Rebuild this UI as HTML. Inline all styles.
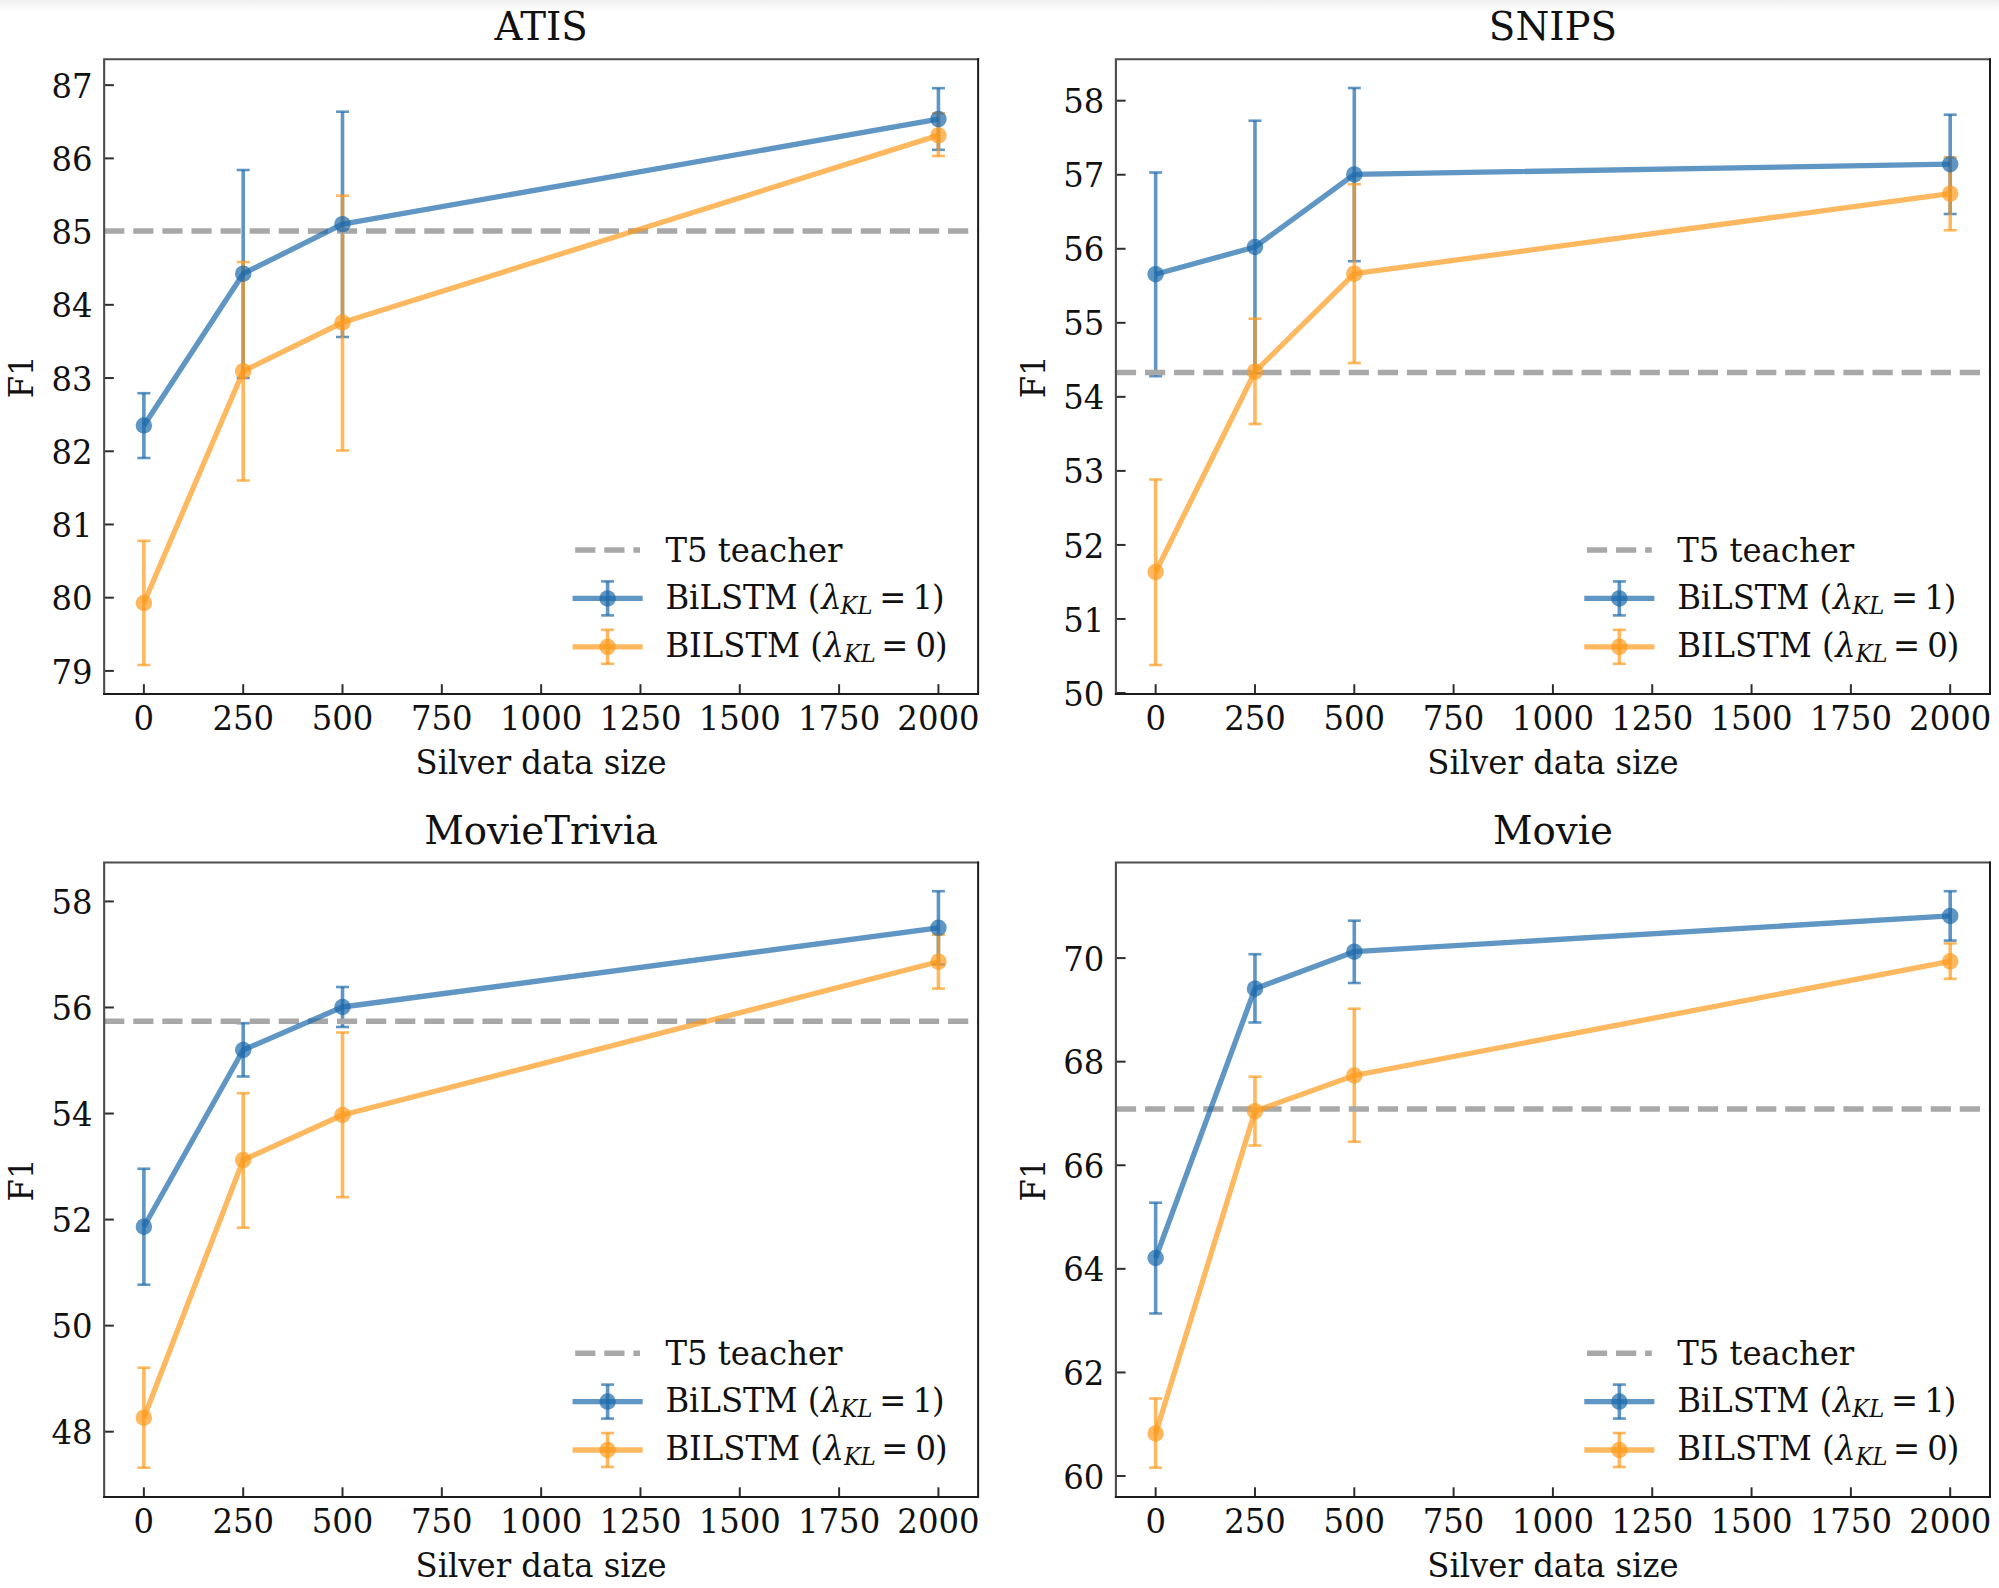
<!DOCTYPE html>
<html lang="en">
<head>
<meta charset="utf-8">
<title>F1 vs. silver data size</title>
<style>
html,body{margin:0;padding:0;background:#ffffff;}
body{width:1999px;height:1588px;overflow:hidden;position:relative;font-family:'DejaVu Serif','Liberation Serif',serif;}
.topshade{position:absolute;left:0;top:0;width:1999px;height:14px;background:linear-gradient(to bottom,#efefef 0px,#f6f6f6 4px,#fbfbfb 8px,#ffffff 13px);}
svg{position:absolute;left:0;top:0;display:block;}
</style>
</head>
<body>
<div class="topshade"></div>
<svg width="1999" height="1588" viewBox="0 0 1999 1588" font-family="'DejaVu Serif','Liberation Serif',serif" fill="#111111">
<g class="panel">
<g stroke="#2e2e2e" stroke-width="2.0">
<line x1="143.88" y1="693.9" x2="143.88" y2="684.2"/>
<line x1="243.2" y1="693.9" x2="243.2" y2="684.2"/>
<line x1="342.51" y1="693.9" x2="342.51" y2="684.2"/>
<line x1="441.83" y1="693.9" x2="441.83" y2="684.2"/>
<line x1="541.15" y1="693.9" x2="541.15" y2="684.2"/>
<line x1="640.47" y1="693.9" x2="640.47" y2="684.2"/>
<line x1="739.78" y1="693.9" x2="739.78" y2="684.2"/>
<line x1="839.1" y1="693.9" x2="839.1" y2="684.2"/>
<line x1="938.42" y1="693.9" x2="938.42" y2="684.2"/>
<line x1="104.15" y1="670.92" x2="113.85" y2="670.92"/>
<line x1="104.15" y1="597.7" x2="113.85" y2="597.7"/>
<line x1="104.15" y1="524.48" x2="113.85" y2="524.48"/>
<line x1="104.15" y1="451.26" x2="113.85" y2="451.26"/>
<line x1="104.15" y1="378.04" x2="113.85" y2="378.04"/>
<line x1="104.15" y1="304.82" x2="113.85" y2="304.82"/>
<line x1="104.15" y1="231.6" x2="113.85" y2="231.6"/>
<line x1="104.15" y1="158.38" x2="113.85" y2="158.38"/>
<line x1="104.15" y1="85.16" x2="113.85" y2="85.16"/>
</g>
<g stroke="#1c69ab" stroke-opacity="0.7">
<line x1="143.88" y1="393.2" x2="143.88" y2="458" stroke-width="3.6"/>
<line x1="243.2" y1="170" x2="243.2" y2="378" stroke-width="3.6"/>
<line x1="342.51" y1="111.7" x2="342.51" y2="337" stroke-width="3.6"/>
<line x1="938.42" y1="88.2" x2="938.42" y2="149.8" stroke-width="3.6"/>
<line x1="137.38" y1="393.2" x2="150.38" y2="393.2" stroke-width="2.6"/>
<line x1="137.38" y1="458" x2="150.38" y2="458" stroke-width="2.6"/>
<line x1="236.7" y1="170" x2="249.7" y2="170" stroke-width="2.6"/>
<line x1="236.7" y1="378" x2="249.7" y2="378" stroke-width="2.6"/>
<line x1="336.01" y1="111.7" x2="349.01" y2="111.7" stroke-width="2.6"/>
<line x1="336.01" y1="337" x2="349.01" y2="337" stroke-width="2.6"/>
<line x1="931.92" y1="88.2" x2="944.92" y2="88.2" stroke-width="2.6"/>
<line x1="931.92" y1="149.8" x2="944.92" y2="149.8" stroke-width="2.6"/>
</g>
<g stroke="#fc9a1c" stroke-opacity="0.7">
<line x1="143.88" y1="540.8" x2="143.88" y2="665" stroke-width="3.6"/>
<line x1="243.2" y1="262" x2="243.2" y2="480.5" stroke-width="3.6"/>
<line x1="342.51" y1="195.7" x2="342.51" y2="450.5" stroke-width="3.6"/>
<line x1="938.42" y1="113.3" x2="938.42" y2="156" stroke-width="3.6"/>
<line x1="137.38" y1="540.8" x2="150.38" y2="540.8" stroke-width="2.6"/>
<line x1="137.38" y1="665" x2="150.38" y2="665" stroke-width="2.6"/>
<line x1="236.7" y1="262" x2="249.7" y2="262" stroke-width="2.6"/>
<line x1="236.7" y1="480.5" x2="249.7" y2="480.5" stroke-width="2.6"/>
<line x1="336.01" y1="195.7" x2="349.01" y2="195.7" stroke-width="2.6"/>
<line x1="336.01" y1="450.5" x2="349.01" y2="450.5" stroke-width="2.6"/>
<line x1="931.92" y1="113.3" x2="944.92" y2="113.3" stroke-width="2.6"/>
<line x1="931.92" y1="156" x2="944.92" y2="156" stroke-width="2.6"/>
</g>
<line x1="104.15" y1="231" x2="978.12" y2="231" stroke="#a8a8a8" stroke-width="5.4" stroke-dasharray="20.2 8.9"/>
<g stroke="#1c69ab" fill="#1c69ab" stroke-opacity="0.7" fill-opacity="0.7">
<path d="M143.88 425.5 L243.2 273.7 L342.51 224.2 L938.42 119.1" fill="none" stroke-width="5.3" stroke-linejoin="round" stroke-linecap="butt"/>
<circle cx="143.88" cy="425.5" r="8.25" stroke="none"/>
<circle cx="243.2" cy="273.7" r="8.25" stroke="none"/>
<circle cx="342.51" cy="224.2" r="8.25" stroke="none"/>
<circle cx="938.42" cy="119.1" r="8.25" stroke="none"/>
</g>
<g stroke="#fc9a1c" fill="#fc9a1c" stroke-opacity="0.7" fill-opacity="0.7">
<path d="M143.88 603 L243.2 371.2 L342.51 322.5 L938.42 135.4" fill="none" stroke-width="5.3" stroke-linejoin="round" stroke-linecap="butt"/>
<circle cx="143.88" cy="603" r="8.25" stroke="none"/>
<circle cx="243.2" cy="371.2" r="8.25" stroke="none"/>
<circle cx="342.51" cy="322.5" r="8.25" stroke="none"/>
<circle cx="938.42" cy="135.4" r="8.25" stroke="none"/>
</g>
<path d="M104.15 694.9V59.3H979.12" fill="none" stroke="#4c4c4c" stroke-width="2.1" stroke-linejoin="miter"/>
<path d="M103.15 693.9H978.12V58.3" fill="none" stroke="#1c1c1c" stroke-width="2.0" stroke-linejoin="miter"/>
<text transform="translate(143.88 730) scale(1 1.045)" font-size="32.3" text-anchor="middle">0</text>
<text transform="translate(243.2 730) scale(1 1.045)" font-size="32.3" text-anchor="middle">250</text>
<text transform="translate(342.51 730) scale(1 1.045)" font-size="32.3" text-anchor="middle">500</text>
<text transform="translate(441.83 730) scale(1 1.045)" font-size="32.3" text-anchor="middle">750</text>
<text transform="translate(541.15 730) scale(1 1.045)" font-size="32.3" text-anchor="middle">1000</text>
<text transform="translate(640.47 730) scale(1 1.045)" font-size="32.3" text-anchor="middle">1250</text>
<text transform="translate(739.78 730) scale(1 1.045)" font-size="32.3" text-anchor="middle">1500</text>
<text transform="translate(839.1 730) scale(1 1.045)" font-size="32.3" text-anchor="middle">1750</text>
<text transform="translate(938.42 730) scale(1 1.045)" font-size="32.3" text-anchor="middle">2000</text>
<text transform="translate(92.65 683.52) scale(1 1.045)" font-size="32.3" text-anchor="end">79</text>
<text transform="translate(92.65 610.3) scale(1 1.045)" font-size="32.3" text-anchor="end">80</text>
<text transform="translate(92.65 537.08) scale(1 1.045)" font-size="32.3" text-anchor="end">81</text>
<text transform="translate(92.65 463.86) scale(1 1.045)" font-size="32.3" text-anchor="end">82</text>
<text transform="translate(92.65 390.64) scale(1 1.045)" font-size="32.3" text-anchor="end">83</text>
<text transform="translate(92.65 317.42) scale(1 1.045)" font-size="32.3" text-anchor="end">84</text>
<text transform="translate(92.65 244.2) scale(1 1.045)" font-size="32.3" text-anchor="end">85</text>
<text transform="translate(92.65 170.98) scale(1 1.045)" font-size="32.3" text-anchor="end">86</text>
<text transform="translate(92.65 97.76) scale(1 1.045)" font-size="32.3" text-anchor="end">87</text>
<text transform="translate(541.13 773.5) scale(1 1.045)" font-size="32.3" text-anchor="middle">Silver data size</text>
<text transform="translate(32.95 376.9) rotate(-90) scale(1 1.045)" font-size="32.3" text-anchor="middle">F1</text>
<text transform="translate(541.13 40.4)" font-size="38.7" text-anchor="middle">ATIS</text>
<line x1="575.2" y1="550" x2="640" y2="550" stroke="#a8a8a8" stroke-width="5.4" stroke-dasharray="20.2 8.9"/>
<g stroke="#1c69ab" fill="#1c69ab" stroke-opacity="0.7" fill-opacity="0.7">
<line x1="572.55" y1="598.4" x2="642.65" y2="598.4" stroke-width="5.3"/>
<circle cx="607.6" cy="598.4" r="8.25" stroke="none"/>
<line x1="607.6" y1="581.4" x2="607.6" y2="615.4" stroke-width="3.6"/>
<line x1="601.1" y1="581.4" x2="614.1" y2="581.4" stroke-width="2.6"/>
<line x1="601.1" y1="615.4" x2="614.1" y2="615.4" stroke-width="2.6"/>
</g>
<g stroke="#fc9a1c" fill="#fc9a1c" stroke-opacity="0.7" fill-opacity="0.7">
<line x1="572.55" y1="646.8" x2="642.65" y2="646.8" stroke-width="5.3"/>
<circle cx="607.6" cy="646.8" r="8.25" stroke="none"/>
<line x1="607.6" y1="629.8" x2="607.6" y2="663.8" stroke-width="3.6"/>
<line x1="601.1" y1="629.8" x2="614.1" y2="629.8" stroke-width="2.6"/>
<line x1="601.1" y1="663.8" x2="614.1" y2="663.8" stroke-width="2.6"/>
</g>
<text transform="translate(665.4 561.9) scale(1 1.045)" font-size="32.3">T5 teacher</text>
<text transform="translate(665.4 608.9) scale(1 1.045)" font-size="32.3"><tspan x="0">BiLSTM (</tspan><tspan x="155.9" font-style="italic">λ</tspan><tspan x="175.2" dy="4.59" font-size="22.6" font-style="italic">KL</tspan><tspan x="213.9" dy="-4.59">=</tspan><tspan x="247.1">1</tspan><tspan x="266.6">)</tspan></text>
<text transform="translate(665.4 657.2) scale(1 1.045)" font-size="32.3"><tspan x="0">BILSTM (</tspan><tspan x="158.1" font-style="italic">λ</tspan><tspan x="178.6" dy="4.59" font-size="22.6" font-style="italic">KL</tspan><tspan x="215.9" dy="-4.59">=</tspan><tspan x="250.1">0</tspan><tspan x="269.7">)</tspan></text>
</g>
<g class="panel">
<g stroke="#2e2e2e" stroke-width="2.0">
<line x1="1155.65" y1="693.9" x2="1155.65" y2="684.2"/>
<line x1="1254.97" y1="693.9" x2="1254.97" y2="684.2"/>
<line x1="1354.29" y1="693.9" x2="1354.29" y2="684.2"/>
<line x1="1453.6" y1="693.9" x2="1453.6" y2="684.2"/>
<line x1="1552.92" y1="693.9" x2="1552.92" y2="684.2"/>
<line x1="1652.24" y1="693.9" x2="1652.24" y2="684.2"/>
<line x1="1751.56" y1="693.9" x2="1751.56" y2="684.2"/>
<line x1="1850.87" y1="693.9" x2="1850.87" y2="684.2"/>
<line x1="1950.19" y1="693.9" x2="1950.19" y2="684.2"/>
<line x1="1115.9" y1="693.01" x2="1125.6" y2="693.01"/>
<line x1="1115.9" y1="618.97" x2="1125.6" y2="618.97"/>
<line x1="1115.9" y1="544.93" x2="1125.6" y2="544.93"/>
<line x1="1115.9" y1="470.89" x2="1125.6" y2="470.89"/>
<line x1="1115.9" y1="396.85" x2="1125.6" y2="396.85"/>
<line x1="1115.9" y1="322.81" x2="1125.6" y2="322.81"/>
<line x1="1115.9" y1="248.77" x2="1125.6" y2="248.77"/>
<line x1="1115.9" y1="174.73" x2="1125.6" y2="174.73"/>
<line x1="1115.9" y1="100.69" x2="1125.6" y2="100.69"/>
</g>
<g stroke="#1c69ab" stroke-opacity="0.7">
<line x1="1155.65" y1="172.5" x2="1155.65" y2="376.2" stroke-width="3.6"/>
<line x1="1254.97" y1="120.7" x2="1254.97" y2="373.2" stroke-width="3.6"/>
<line x1="1354.29" y1="88" x2="1354.29" y2="261.2" stroke-width="3.6"/>
<line x1="1950.19" y1="114.7" x2="1950.19" y2="214" stroke-width="3.6"/>
<line x1="1149.15" y1="172.5" x2="1162.15" y2="172.5" stroke-width="2.6"/>
<line x1="1149.15" y1="376.2" x2="1162.15" y2="376.2" stroke-width="2.6"/>
<line x1="1248.47" y1="120.7" x2="1261.47" y2="120.7" stroke-width="2.6"/>
<line x1="1248.47" y1="373.2" x2="1261.47" y2="373.2" stroke-width="2.6"/>
<line x1="1347.79" y1="88" x2="1360.79" y2="88" stroke-width="2.6"/>
<line x1="1347.79" y1="261.2" x2="1360.79" y2="261.2" stroke-width="2.6"/>
<line x1="1943.69" y1="114.7" x2="1956.69" y2="114.7" stroke-width="2.6"/>
<line x1="1943.69" y1="214" x2="1956.69" y2="214" stroke-width="2.6"/>
</g>
<g stroke="#fc9a1c" stroke-opacity="0.7">
<line x1="1155.65" y1="479.5" x2="1155.65" y2="665" stroke-width="3.6"/>
<line x1="1254.97" y1="318.7" x2="1254.97" y2="424" stroke-width="3.6"/>
<line x1="1354.29" y1="184.2" x2="1354.29" y2="363" stroke-width="3.6"/>
<line x1="1950.19" y1="157.3" x2="1950.19" y2="230.3" stroke-width="3.6"/>
<line x1="1149.15" y1="479.5" x2="1162.15" y2="479.5" stroke-width="2.6"/>
<line x1="1149.15" y1="665" x2="1162.15" y2="665" stroke-width="2.6"/>
<line x1="1248.47" y1="318.7" x2="1261.47" y2="318.7" stroke-width="2.6"/>
<line x1="1248.47" y1="424" x2="1261.47" y2="424" stroke-width="2.6"/>
<line x1="1347.79" y1="184.2" x2="1360.79" y2="184.2" stroke-width="2.6"/>
<line x1="1347.79" y1="363" x2="1360.79" y2="363" stroke-width="2.6"/>
<line x1="1943.69" y1="157.3" x2="1956.69" y2="157.3" stroke-width="2.6"/>
<line x1="1943.69" y1="230.3" x2="1956.69" y2="230.3" stroke-width="2.6"/>
</g>
<line x1="1115.9" y1="372.5" x2="1990" y2="372.5" stroke="#a8a8a8" stroke-width="5.4" stroke-dasharray="20.2 8.9"/>
<g stroke="#1c69ab" fill="#1c69ab" stroke-opacity="0.7" fill-opacity="0.7">
<path d="M1155.65 274.2 L1254.97 247 L1354.29 174.4 L1950.19 164.2" fill="none" stroke-width="5.3" stroke-linejoin="round" stroke-linecap="butt"/>
<circle cx="1155.65" cy="274.2" r="8.25" stroke="none"/>
<circle cx="1254.97" cy="247" r="8.25" stroke="none"/>
<circle cx="1354.29" cy="174.4" r="8.25" stroke="none"/>
<circle cx="1950.19" cy="164.2" r="8.25" stroke="none"/>
</g>
<g stroke="#fc9a1c" fill="#fc9a1c" stroke-opacity="0.7" fill-opacity="0.7">
<path d="M1155.65 572 L1254.97 371.7 L1354.29 273.7 L1950.19 193.7" fill="none" stroke-width="5.3" stroke-linejoin="round" stroke-linecap="butt"/>
<circle cx="1155.65" cy="572" r="8.25" stroke="none"/>
<circle cx="1254.97" cy="371.7" r="8.25" stroke="none"/>
<circle cx="1354.29" cy="273.7" r="8.25" stroke="none"/>
<circle cx="1950.19" cy="193.7" r="8.25" stroke="none"/>
</g>
<path d="M1115.9 694.9V59.3H1991" fill="none" stroke="#4c4c4c" stroke-width="2.1" stroke-linejoin="miter"/>
<path d="M1114.9 693.9H1990V58.3" fill="none" stroke="#1c1c1c" stroke-width="2.0" stroke-linejoin="miter"/>
<text transform="translate(1155.65 730) scale(1 1.045)" font-size="32.3" text-anchor="middle">0</text>
<text transform="translate(1254.97 730) scale(1 1.045)" font-size="32.3" text-anchor="middle">250</text>
<text transform="translate(1354.29 730) scale(1 1.045)" font-size="32.3" text-anchor="middle">500</text>
<text transform="translate(1453.6 730) scale(1 1.045)" font-size="32.3" text-anchor="middle">750</text>
<text transform="translate(1552.92 730) scale(1 1.045)" font-size="32.3" text-anchor="middle">1000</text>
<text transform="translate(1652.24 730) scale(1 1.045)" font-size="32.3" text-anchor="middle">1250</text>
<text transform="translate(1751.56 730) scale(1 1.045)" font-size="32.3" text-anchor="middle">1500</text>
<text transform="translate(1850.87 730) scale(1 1.045)" font-size="32.3" text-anchor="middle">1750</text>
<text transform="translate(1950.19 730) scale(1 1.045)" font-size="32.3" text-anchor="middle">2000</text>
<text transform="translate(1104.4 705.61) scale(1 1.045)" font-size="32.3" text-anchor="end">50</text>
<text transform="translate(1104.4 631.57) scale(1 1.045)" font-size="32.3" text-anchor="end">51</text>
<text transform="translate(1104.4 557.53) scale(1 1.045)" font-size="32.3" text-anchor="end">52</text>
<text transform="translate(1104.4 483.49) scale(1 1.045)" font-size="32.3" text-anchor="end">53</text>
<text transform="translate(1104.4 409.45) scale(1 1.045)" font-size="32.3" text-anchor="end">54</text>
<text transform="translate(1104.4 335.41) scale(1 1.045)" font-size="32.3" text-anchor="end">55</text>
<text transform="translate(1104.4 261.37) scale(1 1.045)" font-size="32.3" text-anchor="end">56</text>
<text transform="translate(1104.4 187.33) scale(1 1.045)" font-size="32.3" text-anchor="end">57</text>
<text transform="translate(1104.4 113.29) scale(1 1.045)" font-size="32.3" text-anchor="end">58</text>
<text transform="translate(1552.95 773.5) scale(1 1.045)" font-size="32.3" text-anchor="middle">Silver data size</text>
<text transform="translate(1044.7 376.9) rotate(-90) scale(1 1.045)" font-size="32.3" text-anchor="middle">F1</text>
<text transform="translate(1552.95 40.4)" font-size="38.7" text-anchor="middle">SNIPS</text>
<line x1="1586.95" y1="550" x2="1651.75" y2="550" stroke="#a8a8a8" stroke-width="5.4" stroke-dasharray="20.2 8.9"/>
<g stroke="#1c69ab" fill="#1c69ab" stroke-opacity="0.7" fill-opacity="0.7">
<line x1="1584.3" y1="598.4" x2="1654.4" y2="598.4" stroke-width="5.3"/>
<circle cx="1619.35" cy="598.4" r="8.25" stroke="none"/>
<line x1="1619.35" y1="581.4" x2="1619.35" y2="615.4" stroke-width="3.6"/>
<line x1="1612.85" y1="581.4" x2="1625.85" y2="581.4" stroke-width="2.6"/>
<line x1="1612.85" y1="615.4" x2="1625.85" y2="615.4" stroke-width="2.6"/>
</g>
<g stroke="#fc9a1c" fill="#fc9a1c" stroke-opacity="0.7" fill-opacity="0.7">
<line x1="1584.3" y1="646.8" x2="1654.4" y2="646.8" stroke-width="5.3"/>
<circle cx="1619.35" cy="646.8" r="8.25" stroke="none"/>
<line x1="1619.35" y1="629.8" x2="1619.35" y2="663.8" stroke-width="3.6"/>
<line x1="1612.85" y1="629.8" x2="1625.85" y2="629.8" stroke-width="2.6"/>
<line x1="1612.85" y1="663.8" x2="1625.85" y2="663.8" stroke-width="2.6"/>
</g>
<text transform="translate(1677.15 561.9) scale(1 1.045)" font-size="32.3">T5 teacher</text>
<text transform="translate(1677.15 608.9) scale(1 1.045)" font-size="32.3"><tspan x="0">BiLSTM (</tspan><tspan x="155.9" font-style="italic">λ</tspan><tspan x="175.2" dy="4.59" font-size="22.6" font-style="italic">KL</tspan><tspan x="213.9" dy="-4.59">=</tspan><tspan x="247.1">1</tspan><tspan x="266.6">)</tspan></text>
<text transform="translate(1677.15 657.2) scale(1 1.045)" font-size="32.3"><tspan x="0">BILSTM (</tspan><tspan x="158.1" font-style="italic">λ</tspan><tspan x="178.6" dy="4.59" font-size="22.6" font-style="italic">KL</tspan><tspan x="215.9" dy="-4.59">=</tspan><tspan x="250.1">0</tspan><tspan x="269.7">)</tspan></text>
</g>
<g class="panel">
<g stroke="#2e2e2e" stroke-width="2.0">
<line x1="143.88" y1="1497" x2="143.88" y2="1487.3"/>
<line x1="243.2" y1="1497" x2="243.2" y2="1487.3"/>
<line x1="342.51" y1="1497" x2="342.51" y2="1487.3"/>
<line x1="441.83" y1="1497" x2="441.83" y2="1487.3"/>
<line x1="541.15" y1="1497" x2="541.15" y2="1487.3"/>
<line x1="640.47" y1="1497" x2="640.47" y2="1487.3"/>
<line x1="739.78" y1="1497" x2="739.78" y2="1487.3"/>
<line x1="839.1" y1="1497" x2="839.1" y2="1487.3"/>
<line x1="938.42" y1="1497" x2="938.42" y2="1487.3"/>
<line x1="104.15" y1="1431.69" x2="113.85" y2="1431.69"/>
<line x1="104.15" y1="1325.64" x2="113.85" y2="1325.64"/>
<line x1="104.15" y1="1219.59" x2="113.85" y2="1219.59"/>
<line x1="104.15" y1="1113.53" x2="113.85" y2="1113.53"/>
<line x1="104.15" y1="1007.48" x2="113.85" y2="1007.48"/>
<line x1="104.15" y1="901.43" x2="113.85" y2="901.43"/>
</g>
<g stroke="#1c69ab" stroke-opacity="0.7">
<line x1="143.88" y1="1168.7" x2="143.88" y2="1284.7" stroke-width="3.6"/>
<line x1="243.2" y1="1023.2" x2="243.2" y2="1076.5" stroke-width="3.6"/>
<line x1="342.51" y1="987" x2="342.51" y2="1027" stroke-width="3.6"/>
<line x1="938.42" y1="891.2" x2="938.42" y2="964.4" stroke-width="3.6"/>
<line x1="137.38" y1="1168.7" x2="150.38" y2="1168.7" stroke-width="2.6"/>
<line x1="137.38" y1="1284.7" x2="150.38" y2="1284.7" stroke-width="2.6"/>
<line x1="236.7" y1="1023.2" x2="249.7" y2="1023.2" stroke-width="2.6"/>
<line x1="236.7" y1="1076.5" x2="249.7" y2="1076.5" stroke-width="2.6"/>
<line x1="336.01" y1="987" x2="349.01" y2="987" stroke-width="2.6"/>
<line x1="336.01" y1="1027" x2="349.01" y2="1027" stroke-width="2.6"/>
<line x1="931.92" y1="891.2" x2="944.92" y2="891.2" stroke-width="2.6"/>
<line x1="931.92" y1="964.4" x2="944.92" y2="964.4" stroke-width="2.6"/>
</g>
<g stroke="#fc9a1c" stroke-opacity="0.7">
<line x1="143.88" y1="1367.7" x2="143.88" y2="1467.7" stroke-width="3.6"/>
<line x1="243.2" y1="1093.2" x2="243.2" y2="1227.7" stroke-width="3.6"/>
<line x1="342.51" y1="1032.5" x2="342.51" y2="1197.2" stroke-width="3.6"/>
<line x1="938.42" y1="934.8" x2="938.42" y2="988.6" stroke-width="3.6"/>
<line x1="137.38" y1="1367.7" x2="150.38" y2="1367.7" stroke-width="2.6"/>
<line x1="137.38" y1="1467.7" x2="150.38" y2="1467.7" stroke-width="2.6"/>
<line x1="236.7" y1="1093.2" x2="249.7" y2="1093.2" stroke-width="2.6"/>
<line x1="236.7" y1="1227.7" x2="249.7" y2="1227.7" stroke-width="2.6"/>
<line x1="336.01" y1="1032.5" x2="349.01" y2="1032.5" stroke-width="2.6"/>
<line x1="336.01" y1="1197.2" x2="349.01" y2="1197.2" stroke-width="2.6"/>
<line x1="931.92" y1="934.8" x2="944.92" y2="934.8" stroke-width="2.6"/>
<line x1="931.92" y1="988.6" x2="944.92" y2="988.6" stroke-width="2.6"/>
</g>
<line x1="104.15" y1="1021.2" x2="978.12" y2="1021.2" stroke="#a8a8a8" stroke-width="5.4" stroke-dasharray="20.2 8.9"/>
<g stroke="#1c69ab" fill="#1c69ab" stroke-opacity="0.7" fill-opacity="0.7">
<path d="M143.88 1226.7 L243.2 1050 L342.51 1007 L938.42 927.8" fill="none" stroke-width="5.3" stroke-linejoin="round" stroke-linecap="butt"/>
<circle cx="143.88" cy="1226.7" r="8.25" stroke="none"/>
<circle cx="243.2" cy="1050" r="8.25" stroke="none"/>
<circle cx="342.51" cy="1007" r="8.25" stroke="none"/>
<circle cx="938.42" cy="927.8" r="8.25" stroke="none"/>
</g>
<g stroke="#fc9a1c" fill="#fc9a1c" stroke-opacity="0.7" fill-opacity="0.7">
<path d="M143.88 1417.7 L243.2 1160 L342.51 1115 L938.42 961.7" fill="none" stroke-width="5.3" stroke-linejoin="round" stroke-linecap="butt"/>
<circle cx="143.88" cy="1417.7" r="8.25" stroke="none"/>
<circle cx="243.2" cy="1160" r="8.25" stroke="none"/>
<circle cx="342.51" cy="1115" r="8.25" stroke="none"/>
<circle cx="938.42" cy="961.7" r="8.25" stroke="none"/>
</g>
<path d="M104.15 1498V862.5H979.12" fill="none" stroke="#4c4c4c" stroke-width="2.1" stroke-linejoin="miter"/>
<path d="M103.15 1497H978.12V861.5" fill="none" stroke="#1c1c1c" stroke-width="2.0" stroke-linejoin="miter"/>
<text transform="translate(143.88 1533.1) scale(1 1.045)" font-size="32.3" text-anchor="middle">0</text>
<text transform="translate(243.2 1533.1) scale(1 1.045)" font-size="32.3" text-anchor="middle">250</text>
<text transform="translate(342.51 1533.1) scale(1 1.045)" font-size="32.3" text-anchor="middle">500</text>
<text transform="translate(441.83 1533.1) scale(1 1.045)" font-size="32.3" text-anchor="middle">750</text>
<text transform="translate(541.15 1533.1) scale(1 1.045)" font-size="32.3" text-anchor="middle">1000</text>
<text transform="translate(640.47 1533.1) scale(1 1.045)" font-size="32.3" text-anchor="middle">1250</text>
<text transform="translate(739.78 1533.1) scale(1 1.045)" font-size="32.3" text-anchor="middle">1500</text>
<text transform="translate(839.1 1533.1) scale(1 1.045)" font-size="32.3" text-anchor="middle">1750</text>
<text transform="translate(938.42 1533.1) scale(1 1.045)" font-size="32.3" text-anchor="middle">2000</text>
<text transform="translate(92.65 1444.29) scale(1 1.045)" font-size="32.3" text-anchor="end">48</text>
<text transform="translate(92.65 1338.24) scale(1 1.045)" font-size="32.3" text-anchor="end">50</text>
<text transform="translate(92.65 1232.19) scale(1 1.045)" font-size="32.3" text-anchor="end">52</text>
<text transform="translate(92.65 1126.13) scale(1 1.045)" font-size="32.3" text-anchor="end">54</text>
<text transform="translate(92.65 1020.08) scale(1 1.045)" font-size="32.3" text-anchor="end">56</text>
<text transform="translate(92.65 914.03) scale(1 1.045)" font-size="32.3" text-anchor="end">58</text>
<text transform="translate(541.13 1576.6) scale(1 1.045)" font-size="32.3" text-anchor="middle">Silver data size</text>
<text transform="translate(32.95 1180.05) rotate(-90) scale(1 1.045)" font-size="32.3" text-anchor="middle">F1</text>
<text transform="translate(541.13 843.6)" font-size="38.7" text-anchor="middle">MovieTrivia</text>
<line x1="575.2" y1="1353.2" x2="640" y2="1353.2" stroke="#a8a8a8" stroke-width="5.4" stroke-dasharray="20.2 8.9"/>
<g stroke="#1c69ab" fill="#1c69ab" stroke-opacity="0.7" fill-opacity="0.7">
<line x1="572.55" y1="1401.6" x2="642.65" y2="1401.6" stroke-width="5.3"/>
<circle cx="607.6" cy="1401.6" r="8.25" stroke="none"/>
<line x1="607.6" y1="1384.6" x2="607.6" y2="1418.6" stroke-width="3.6"/>
<line x1="601.1" y1="1384.6" x2="614.1" y2="1384.6" stroke-width="2.6"/>
<line x1="601.1" y1="1418.6" x2="614.1" y2="1418.6" stroke-width="2.6"/>
</g>
<g stroke="#fc9a1c" fill="#fc9a1c" stroke-opacity="0.7" fill-opacity="0.7">
<line x1="572.55" y1="1450" x2="642.65" y2="1450" stroke-width="5.3"/>
<circle cx="607.6" cy="1450" r="8.25" stroke="none"/>
<line x1="607.6" y1="1433" x2="607.6" y2="1467" stroke-width="3.6"/>
<line x1="601.1" y1="1433" x2="614.1" y2="1433" stroke-width="2.6"/>
<line x1="601.1" y1="1467" x2="614.1" y2="1467" stroke-width="2.6"/>
</g>
<text transform="translate(665.4 1365.1) scale(1 1.045)" font-size="32.3">T5 teacher</text>
<text transform="translate(665.4 1412.1) scale(1 1.045)" font-size="32.3"><tspan x="0">BiLSTM (</tspan><tspan x="155.9" font-style="italic">λ</tspan><tspan x="175.2" dy="4.59" font-size="22.6" font-style="italic">KL</tspan><tspan x="213.9" dy="-4.59">=</tspan><tspan x="247.1">1</tspan><tspan x="266.6">)</tspan></text>
<text transform="translate(665.4 1460.4) scale(1 1.045)" font-size="32.3"><tspan x="0">BILSTM (</tspan><tspan x="158.1" font-style="italic">λ</tspan><tspan x="178.6" dy="4.59" font-size="22.6" font-style="italic">KL</tspan><tspan x="215.9" dy="-4.59">=</tspan><tspan x="250.1">0</tspan><tspan x="269.7">)</tspan></text>
</g>
<g class="panel">
<g stroke="#2e2e2e" stroke-width="2.0">
<line x1="1155.65" y1="1497" x2="1155.65" y2="1487.3"/>
<line x1="1254.97" y1="1497" x2="1254.97" y2="1487.3"/>
<line x1="1354.29" y1="1497" x2="1354.29" y2="1487.3"/>
<line x1="1453.6" y1="1497" x2="1453.6" y2="1487.3"/>
<line x1="1552.92" y1="1497" x2="1552.92" y2="1487.3"/>
<line x1="1652.24" y1="1497" x2="1652.24" y2="1487.3"/>
<line x1="1751.56" y1="1497" x2="1751.56" y2="1487.3"/>
<line x1="1850.87" y1="1497" x2="1850.87" y2="1487.3"/>
<line x1="1950.19" y1="1497" x2="1950.19" y2="1487.3"/>
<line x1="1115.9" y1="1476.03" x2="1125.6" y2="1476.03"/>
<line x1="1115.9" y1="1372.44" x2="1125.6" y2="1372.44"/>
<line x1="1115.9" y1="1268.85" x2="1125.6" y2="1268.85"/>
<line x1="1115.9" y1="1165.27" x2="1125.6" y2="1165.27"/>
<line x1="1115.9" y1="1061.68" x2="1125.6" y2="1061.68"/>
<line x1="1115.9" y1="958.09" x2="1125.6" y2="958.09"/>
</g>
<g stroke="#1c69ab" stroke-opacity="0.7">
<line x1="1155.65" y1="1202.7" x2="1155.65" y2="1313.5" stroke-width="3.6"/>
<line x1="1254.97" y1="954.2" x2="1254.97" y2="1022.5" stroke-width="3.6"/>
<line x1="1354.29" y1="920.7" x2="1354.29" y2="983" stroke-width="3.6"/>
<line x1="1950.19" y1="891.2" x2="1950.19" y2="940.6" stroke-width="3.6"/>
<line x1="1149.15" y1="1202.7" x2="1162.15" y2="1202.7" stroke-width="2.6"/>
<line x1="1149.15" y1="1313.5" x2="1162.15" y2="1313.5" stroke-width="2.6"/>
<line x1="1248.47" y1="954.2" x2="1261.47" y2="954.2" stroke-width="2.6"/>
<line x1="1248.47" y1="1022.5" x2="1261.47" y2="1022.5" stroke-width="2.6"/>
<line x1="1347.79" y1="920.7" x2="1360.79" y2="920.7" stroke-width="2.6"/>
<line x1="1347.79" y1="983" x2="1360.79" y2="983" stroke-width="2.6"/>
<line x1="1943.69" y1="891.2" x2="1956.69" y2="891.2" stroke-width="2.6"/>
<line x1="1943.69" y1="940.6" x2="1956.69" y2="940.6" stroke-width="2.6"/>
</g>
<g stroke="#fc9a1c" stroke-opacity="0.7">
<line x1="1155.65" y1="1398.5" x2="1155.65" y2="1467.7" stroke-width="3.6"/>
<line x1="1254.97" y1="1076.7" x2="1254.97" y2="1145.5" stroke-width="3.6"/>
<line x1="1354.29" y1="1008.7" x2="1354.29" y2="1141.7" stroke-width="3.6"/>
<line x1="1950.19" y1="943.4" x2="1950.19" y2="978.8" stroke-width="3.6"/>
<line x1="1149.15" y1="1398.5" x2="1162.15" y2="1398.5" stroke-width="2.6"/>
<line x1="1149.15" y1="1467.7" x2="1162.15" y2="1467.7" stroke-width="2.6"/>
<line x1="1248.47" y1="1076.7" x2="1261.47" y2="1076.7" stroke-width="2.6"/>
<line x1="1248.47" y1="1145.5" x2="1261.47" y2="1145.5" stroke-width="2.6"/>
<line x1="1347.79" y1="1008.7" x2="1360.79" y2="1008.7" stroke-width="2.6"/>
<line x1="1347.79" y1="1141.7" x2="1360.79" y2="1141.7" stroke-width="2.6"/>
<line x1="1943.69" y1="943.4" x2="1956.69" y2="943.4" stroke-width="2.6"/>
<line x1="1943.69" y1="978.8" x2="1956.69" y2="978.8" stroke-width="2.6"/>
</g>
<line x1="1115.9" y1="1109" x2="1990" y2="1109" stroke="#a8a8a8" stroke-width="5.4" stroke-dasharray="20.2 8.9"/>
<g stroke="#1c69ab" fill="#1c69ab" stroke-opacity="0.7" fill-opacity="0.7">
<path d="M1155.65 1258 L1254.97 988.7 L1354.29 951.7 L1950.19 915.9" fill="none" stroke-width="5.3" stroke-linejoin="round" stroke-linecap="butt"/>
<circle cx="1155.65" cy="1258" r="8.25" stroke="none"/>
<circle cx="1254.97" cy="988.7" r="8.25" stroke="none"/>
<circle cx="1354.29" cy="951.7" r="8.25" stroke="none"/>
<circle cx="1950.19" cy="915.9" r="8.25" stroke="none"/>
</g>
<g stroke="#fc9a1c" fill="#fc9a1c" stroke-opacity="0.7" fill-opacity="0.7">
<path d="M1155.65 1433.5 L1254.97 1111.2 L1354.29 1075.5 L1950.19 961.3" fill="none" stroke-width="5.3" stroke-linejoin="round" stroke-linecap="butt"/>
<circle cx="1155.65" cy="1433.5" r="8.25" stroke="none"/>
<circle cx="1254.97" cy="1111.2" r="8.25" stroke="none"/>
<circle cx="1354.29" cy="1075.5" r="8.25" stroke="none"/>
<circle cx="1950.19" cy="961.3" r="8.25" stroke="none"/>
</g>
<path d="M1115.9 1498V862.5H1991" fill="none" stroke="#4c4c4c" stroke-width="2.1" stroke-linejoin="miter"/>
<path d="M1114.9 1497H1990V861.5" fill="none" stroke="#1c1c1c" stroke-width="2.0" stroke-linejoin="miter"/>
<text transform="translate(1155.65 1533.1) scale(1 1.045)" font-size="32.3" text-anchor="middle">0</text>
<text transform="translate(1254.97 1533.1) scale(1 1.045)" font-size="32.3" text-anchor="middle">250</text>
<text transform="translate(1354.29 1533.1) scale(1 1.045)" font-size="32.3" text-anchor="middle">500</text>
<text transform="translate(1453.6 1533.1) scale(1 1.045)" font-size="32.3" text-anchor="middle">750</text>
<text transform="translate(1552.92 1533.1) scale(1 1.045)" font-size="32.3" text-anchor="middle">1000</text>
<text transform="translate(1652.24 1533.1) scale(1 1.045)" font-size="32.3" text-anchor="middle">1250</text>
<text transform="translate(1751.56 1533.1) scale(1 1.045)" font-size="32.3" text-anchor="middle">1500</text>
<text transform="translate(1850.87 1533.1) scale(1 1.045)" font-size="32.3" text-anchor="middle">1750</text>
<text transform="translate(1950.19 1533.1) scale(1 1.045)" font-size="32.3" text-anchor="middle">2000</text>
<text transform="translate(1104.4 1488.63) scale(1 1.045)" font-size="32.3" text-anchor="end">60</text>
<text transform="translate(1104.4 1385.04) scale(1 1.045)" font-size="32.3" text-anchor="end">62</text>
<text transform="translate(1104.4 1281.45) scale(1 1.045)" font-size="32.3" text-anchor="end">64</text>
<text transform="translate(1104.4 1177.87) scale(1 1.045)" font-size="32.3" text-anchor="end">66</text>
<text transform="translate(1104.4 1074.28) scale(1 1.045)" font-size="32.3" text-anchor="end">68</text>
<text transform="translate(1104.4 970.69) scale(1 1.045)" font-size="32.3" text-anchor="end">70</text>
<text transform="translate(1552.95 1576.6) scale(1 1.045)" font-size="32.3" text-anchor="middle">Silver data size</text>
<text transform="translate(1044.7 1180.05) rotate(-90) scale(1 1.045)" font-size="32.3" text-anchor="middle">F1</text>
<text transform="translate(1552.95 843.6)" font-size="38.7" text-anchor="middle">Movie</text>
<line x1="1586.95" y1="1353.2" x2="1651.75" y2="1353.2" stroke="#a8a8a8" stroke-width="5.4" stroke-dasharray="20.2 8.9"/>
<g stroke="#1c69ab" fill="#1c69ab" stroke-opacity="0.7" fill-opacity="0.7">
<line x1="1584.3" y1="1401.6" x2="1654.4" y2="1401.6" stroke-width="5.3"/>
<circle cx="1619.35" cy="1401.6" r="8.25" stroke="none"/>
<line x1="1619.35" y1="1384.6" x2="1619.35" y2="1418.6" stroke-width="3.6"/>
<line x1="1612.85" y1="1384.6" x2="1625.85" y2="1384.6" stroke-width="2.6"/>
<line x1="1612.85" y1="1418.6" x2="1625.85" y2="1418.6" stroke-width="2.6"/>
</g>
<g stroke="#fc9a1c" fill="#fc9a1c" stroke-opacity="0.7" fill-opacity="0.7">
<line x1="1584.3" y1="1450" x2="1654.4" y2="1450" stroke-width="5.3"/>
<circle cx="1619.35" cy="1450" r="8.25" stroke="none"/>
<line x1="1619.35" y1="1433" x2="1619.35" y2="1467" stroke-width="3.6"/>
<line x1="1612.85" y1="1433" x2="1625.85" y2="1433" stroke-width="2.6"/>
<line x1="1612.85" y1="1467" x2="1625.85" y2="1467" stroke-width="2.6"/>
</g>
<text transform="translate(1677.15 1365.1) scale(1 1.045)" font-size="32.3">T5 teacher</text>
<text transform="translate(1677.15 1412.1) scale(1 1.045)" font-size="32.3"><tspan x="0">BiLSTM (</tspan><tspan x="155.9" font-style="italic">λ</tspan><tspan x="175.2" dy="4.59" font-size="22.6" font-style="italic">KL</tspan><tspan x="213.9" dy="-4.59">=</tspan><tspan x="247.1">1</tspan><tspan x="266.6">)</tspan></text>
<text transform="translate(1677.15 1460.4) scale(1 1.045)" font-size="32.3"><tspan x="0">BILSTM (</tspan><tspan x="158.1" font-style="italic">λ</tspan><tspan x="178.6" dy="4.59" font-size="22.6" font-style="italic">KL</tspan><tspan x="215.9" dy="-4.59">=</tspan><tspan x="250.1">0</tspan><tspan x="269.7">)</tspan></text>
</g>
</svg>
</body>
</html>
